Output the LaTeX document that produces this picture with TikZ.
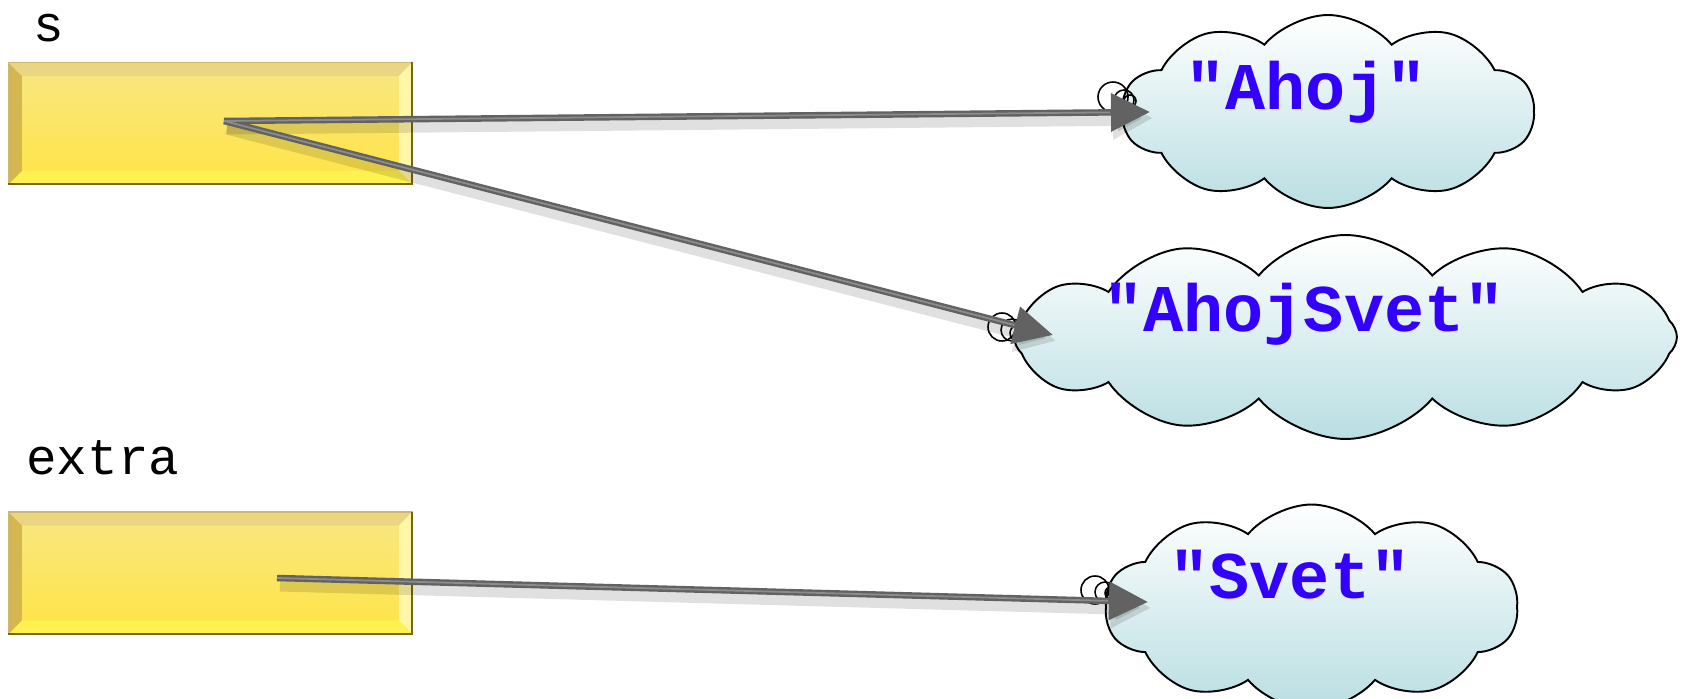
\documentclass[tikz,border=0pt]{standalone}
\usepackage{fontspec}
\setmonofont{Liberation Mono}
\usetikzlibrary{shapes.symbols,arrows.meta,calc}
\definecolor{arrowgray}{HTML}{626262}
\definecolor{arrowlight}{HTML}{8C8C8C}
\definecolor{valblue}{HTML}{3300FF}
\definecolor{cloudbot}{HTML}{B9DEE2}
\definecolor{boxtop}{HTML}{F8E684}
\definecolor{boxmid}{HTML}{FFF492}
\definecolor{boxbot}{HTML}{FFE544}
\definecolor{bevtop}{HTML}{EAD682}
\definecolor{bevleftA}{HTML}{D4B650}
\definecolor{bevleftB}{HTML}{F8E484}
\definecolor{bevright}{HTML}{FFF7A8}
\definecolor{bevbot}{HTML}{FFF150}
\definecolor{boxedge}{HTML}{CDB870}
\definecolor{boxdark}{HTML}{7A6414}
\begin{document}
\begin{tikzpicture}[x=0.02cm,y=0.02cm,
  varbox/.style={rectangle, minimum width=8.1cm, minimum height=2.46cm,
    inner sep=0pt, outer sep=0pt, top color=boxtop, middle color=boxmid, bottom color=boxbot,
    path picture={
      \shade[left color=bevleftA, right color=bevleftB]
        (path picture bounding box.north west) -- (path picture bounding box.south west)
        -- ([xshift=0.28cm,yshift=0.28cm]path picture bounding box.south west)
        -- ([xshift=0.28cm,yshift=-0.28cm]path picture bounding box.north west) -- cycle;
      \fill[bevtop]
        (path picture bounding box.north west) -- (path picture bounding box.north east)
        -- ([xshift=-0.28cm,yshift=-0.28cm]path picture bounding box.north east)
        -- ([xshift=0.28cm,yshift=-0.28cm]path picture bounding box.north west) -- cycle;
      \fill[bevright]
        (path picture bounding box.north east) -- (path picture bounding box.south east)
        -- ([xshift=-0.28cm,yshift=0.28cm]path picture bounding box.south east)
        -- ([xshift=-0.28cm,yshift=-0.28cm]path picture bounding box.north east) -- cycle;
      \fill[bevbot]
        (path picture bounding box.south west) -- (path picture bounding box.south east)
        -- ([xshift=-0.28cm,yshift=0.28cm]path picture bounding box.south east)
        -- ([xshift=0.28cm,yshift=0.28cm]path picture bounding box.south west) -- cycle;
      \draw[boxedge, line width=1.6pt]
        (path picture bounding box.south west) -- (path picture bounding box.north west)
        -- (path picture bounding box.north east);
      \draw[boxdark, line width=2pt]
        (path picture bounding box.south west) -- (path picture bounding box.south east)
        -- (path picture bounding box.north east);
    }},
  cloudshape/.style={cloud, cloud puff arc=100, cloud ignores aspect,
    draw=black, line width=1.1pt, top color=white, bottom color=cloudbot, inner sep=0pt},
  valtext/.style={text=valblue, font=\fontsize{38}{40}\selectfont\ttfamily\bfseries, inner sep=0pt, anchor=base},
  lbl/.style={font=\fontsize{29}{31}\selectfont\ttfamily, inner sep=0pt, anchor=base west},
  bubble/.style={draw=black, line width=0.9pt},
  arrshadow/.style={line width=0.3cm, draw=black, opacity=0.12,
    -{Triangle[length=0.8cm,width=0.8cm]}, transform canvas={shift={(0.06cm,-0.12cm)}}},
  arrmain/.style={line width=0.13cm, draw=arrowgray, fill=arrowgray,
    -{Triangle[length=0.78cm,width=0.74cm]}},
  arrhigh/.style={line width=0.035cm, draw=arrowlight, shorten >=0.8cm}
]
\useasboundingbox (0,0) rectangle (1683,-699);

% variable labels and boxes
\node[lbl] (ls) at (33,-42) {s};
\node[lbl] (lx) at (26,-474) {extra};
\node[varbox] (bs) at (210.5,-123.5) {};
\node[varbox] (bx) at (210.5,-573) {};

% clouds
\node[cloudshape, cloud puffs=10, minimum width=8.24cm, minimum height=3.86cm] (cA) at (1328,-111.5) {};
\node[cloudshape, cloud puffs=12, minimum width=13.26cm, minimum height=4.08cm] (cB) at (1345.5,-337) {};
\node[cloudshape, cloud puffs=10, minimum width=8.26cm, minimum height=4.1cm] (cC) at (1311.5,-607) {};

\node[valtext] (tA) at (1306,-110) {"Ahoj"};
\node[valtext] (tB) at (1304,-331) {"AhojSvet"};
\node[valtext] (tC) at (1290,-598) {"Svet"};

% callout bubbles
\draw[bubble] (1113,-97) circle[radius=15];
\draw[bubble] (1124,-100) circle[radius=10];
\draw[bubble] (1130,-101) circle[radius=6];
\draw[bubble] (1002,-327) circle[radius=14];
\draw[bubble] (1012,-330) circle[radius=11];
\draw[bubble] (1018,-333) circle[radius=8];
\draw[bubble] (1095,-590) circle[radius=14];
\draw[bubble] (1105,-592) circle[radius=10];
\draw[bubble] (1111,-593) circle[radius=6];

% pointer coordinates
\coordinate (sA) at (224,-121);
\coordinate (sC) at (277,-578);
\coordinate (pA) at (1150,-112);
\coordinate (pB) at (1053,-335);
\coordinate (pC) at (1148,-602);

% arrows
\draw[arrshadow] (sA) -- (pA);
\draw[arrshadow] (sA) -- (pB);
\draw[arrshadow] (sC) -- (pC);
\draw[arrmain] (sA) -- (pA);
\draw[arrmain] (sA) -- (pB);
\draw[arrmain] (sC) -- (pC);
\draw[arrhigh] (sA) -- (pA);
\draw[arrhigh] (sA) -- (pB);
\draw[arrhigh] (sC) -- (pC);
\end{tikzpicture}
\end{document}
